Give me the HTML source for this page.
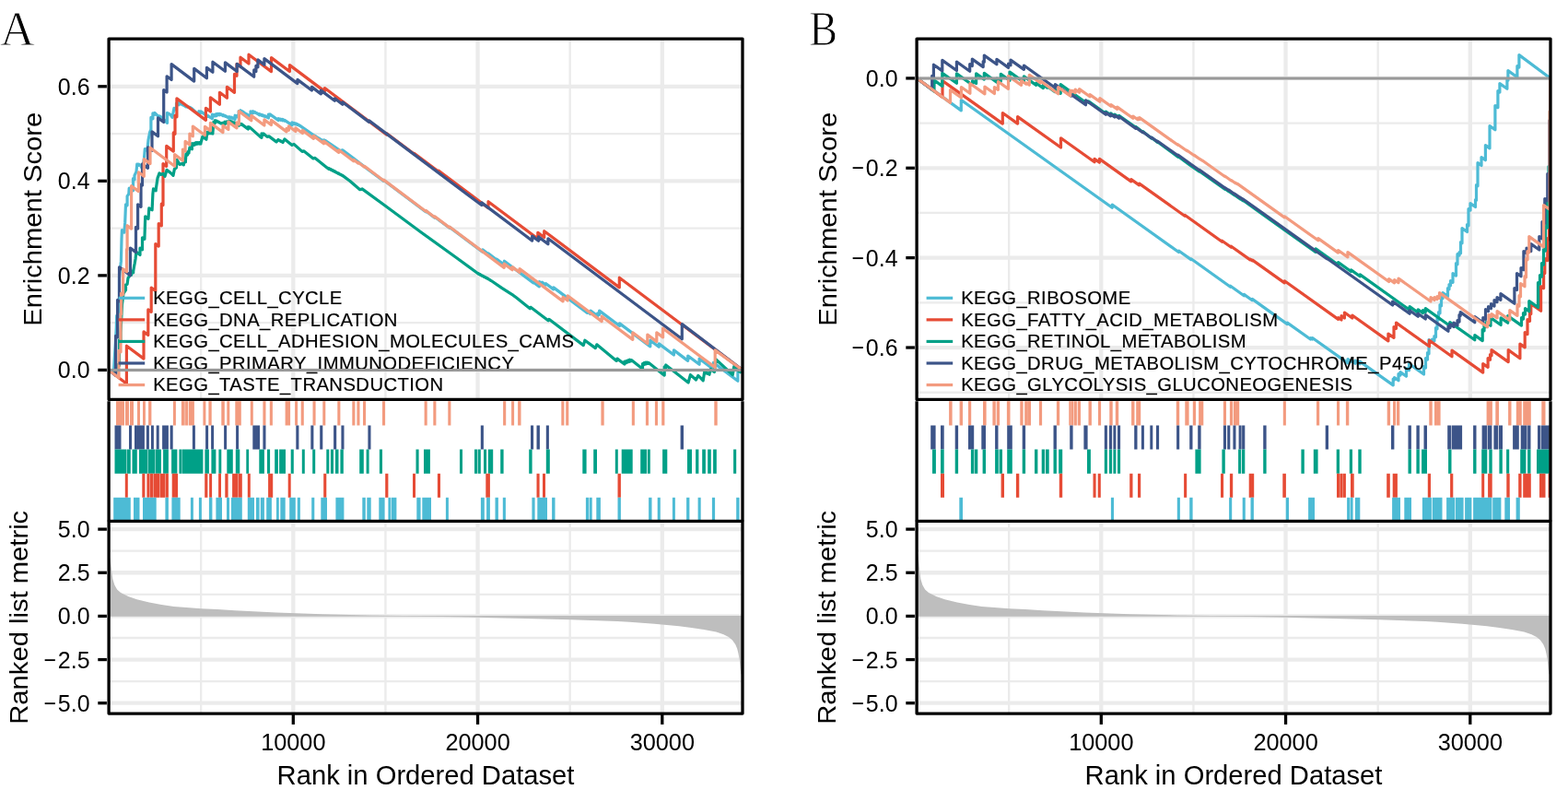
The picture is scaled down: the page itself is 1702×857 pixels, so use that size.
<!DOCTYPE html>
<html lang="en">
<head>
<meta charset="utf-8">
<title>GSEA enrichment plots</title>
<style>
html,body{margin:0;padding:0;background:#fff;}
body{width:1702px;height:857px;overflow:hidden;}
svg{display:block;font-family:"Liberation Sans",sans-serif;}
.tag{font-family:"Liberation Serif",serif;}
</style>
</head>
<body>
<svg width="1702" height="857" viewBox="0 0 1702 857">
<defs>
<clipPath id="clipTop"><rect x="118.1" y="42.1" width="687.90" height="391.30"/></clipPath>
<clipPath id="clipBar"><rect x="118.1" y="433.4" width="687.90" height="132.00"/></clipPath>
<clipPath id="clipBot"><rect x="118.1" y="565.4" width="687.90" height="208.70"/></clipPath>
</defs>
<rect width="1702" height="857" fill="#fff"/>
<text class="tag" transform="translate(0.3,49.3) scale(0.965,1)" font-size="53.5" fill="#000" stroke="#fff" stroke-width="0.9" paint-order="fill stroke">A</text>
<text class="tag" transform="translate(878.4,49.1) scale(0.855,1)" font-size="53.5" fill="#000" stroke="#fff" stroke-width="0.9" paint-order="fill stroke">B</text>
<g transform="translate(0,0)">
<g stroke="#EBEBEB" fill="none"><line x1="118.1" x2="806.0" y1="350.13" y2="350.13" stroke-width="2.3"/><line x1="118.1" x2="806.0" y1="247.59" y2="247.59" stroke-width="2.3"/><line x1="118.1" x2="806.0" y1="145.05" y2="145.05" stroke-width="2.3"/><line x1="218.18" x2="218.18" y1="42.1" y2="433.4" stroke-width="2.3"/><line x1="218.18" x2="218.18" y1="565.4" y2="774.1" stroke-width="2.3"/><line x1="418.43" x2="418.43" y1="42.1" y2="433.4" stroke-width="2.3"/><line x1="418.43" x2="418.43" y1="565.4" y2="774.1" stroke-width="2.3"/><line x1="618.67" x2="618.67" y1="42.1" y2="433.4" stroke-width="2.3"/><line x1="618.67" x2="618.67" y1="565.4" y2="774.1" stroke-width="2.3"/><line x1="118.1" x2="806.0" y1="401.40" y2="401.40" stroke-width="4.3"/><line x1="118.1" x2="806.0" y1="298.86" y2="298.86" stroke-width="4.3"/><line x1="118.1" x2="806.0" y1="196.32" y2="196.32" stroke-width="4.3"/><line x1="118.1" x2="806.0" y1="93.78" y2="93.78" stroke-width="4.3"/><line x1="318.30" x2="318.30" y1="42.1" y2="433.4" stroke-width="4.3"/><line x1="318.30" x2="318.30" y1="565.4" y2="774.1" stroke-width="4.3"/><line x1="518.55" x2="518.55" y1="42.1" y2="433.4" stroke-width="4.3"/><line x1="518.55" x2="518.55" y1="565.4" y2="774.1" stroke-width="4.3"/><line x1="718.80" x2="718.80" y1="42.1" y2="433.4" stroke-width="4.3"/><line x1="718.80" x2="718.80" y1="565.4" y2="774.1" stroke-width="4.3"/><line x1="118.1" x2="806.0" y1="597.67" y2="597.67" stroke-width="2.3"/><line x1="118.1" x2="806.0" y1="644.82" y2="644.82" stroke-width="2.3"/><line x1="118.1" x2="806.0" y1="691.98" y2="691.98" stroke-width="2.3"/><line x1="118.1" x2="806.0" y1="739.12" y2="739.12" stroke-width="2.3"/><line x1="118.1" x2="806.0" y1="574.10" y2="574.10" stroke-width="4.3"/><line x1="118.1" x2="806.0" y1="621.25" y2="621.25" stroke-width="4.3"/><line x1="118.1" x2="806.0" y1="668.40" y2="668.40" stroke-width="4.3"/><line x1="118.1" x2="806.0" y1="715.55" y2="715.55" stroke-width="4.3"/><line x1="118.1" x2="806.0" y1="762.70" y2="762.70" stroke-width="4.3"/></g>
<g clip-path="url(#clipTop)" fill="none" stroke-width="3.2" stroke-linejoin="round" stroke-linecap="butt">
<path d="M118.1 401.4 L119.9 403.1 L119.9 401.9 L121.7 403.3 L121.7 402.5 L123.5 403.8 L123.5 403.4 L124.3 389.4 L126.3 355.4 L126.7 342.4 L129.5 344.5 L129.5 300.4 L131.4 283.4 L132.0 259.4 L132.4 249.6 L134.9 252.1 L135.7 241.4 L136.5 221.8 L138.1 222.7 L138.1 212.9 L139.8 210.4 L140.2 204.1 L143.0 206.2 L143.0 205.7 L144.5 206.8 L144.5 193.7 L146.0 194.8 L146.0 190.4 L148.0 186.1 L148.8 178.0 L150.4 179.2 L150.4 178.0 L152.0 179.2 L152.0 178.8 L154.5 182.9 L156.5 171.4 L157.3 161.6 L160.2 163.8 L160.2 160.0 L161.0 151.8 L162.6 143.7 L163.9 140.4 L163.9 127.4 L165.9 128.9 L165.9 122.9 L167.9 124.4 L167.9 122.4 L171.0 125.4 L173.0 126.9 L173.0 125.8 L175.0 127.3 L175.0 126.9 L181.5 133.4 L181.5 122.4 L183.2 123.7 L183.2 123.2 L185.0 124.6 L185.0 124.4 L187.0 127.4 L189.0 117.4 L191.5 119.3 L191.5 112.0 L194.0 113.8 L194.0 111.4 L196.0 112.9 L196.0 112.2 L198.0 113.7 L198.0 113.2 L200.0 114.7 L200.0 114.4 L202.0 115.9 L202.0 114.8 L203.9 116.3 L203.9 115.5 L205.9 117.0 L205.9 116.3 L207.9 117.8 L207.9 117.4 L213.9 122.9 L215.9 124.4 L215.9 120.7 L217.9 122.2 L217.9 120.9 L222.9 124.4 L225.4 126.3 L225.4 125.3 L227.9 127.2 L227.9 126.9 L230.4 128.8 L230.4 124.1 L232.9 126.0 L232.9 124.4 L234.7 125.7 L234.7 123.6 L236.4 124.9 L236.4 123.4 L238.2 124.7 L238.2 123.3 L239.9 124.6 L239.9 123.9 L242.2 125.6 L242.2 124.5 L244.5 126.3 L244.5 125.5 L246.8 127.3 L246.8 126.9 L248.8 128.4 L248.8 126.7 L250.8 128.2 L250.8 127.0 L252.8 128.5 L252.8 127.9 L255.1 129.6 L255.1 125.2 L257.4 126.9 L257.4 125.4 L259.2 126.8 L259.2 120.5 L261.0 121.8 L261.0 119.7 L263.1 121.3 L263.1 120.9 L265.2 122.4 L265.2 122.2 L267.4 123.7 L267.4 123.5 L269.5 125.0 L269.5 124.9 L272.0 126.8 L272.0 120.8 L274.5 122.7 L274.5 120.7 L276.3 122.1 L276.3 121.4 L278.1 122.7 L278.1 122.3 L279.9 123.6 L279.9 123.4 L281.9 124.9 L281.9 123.7 L283.9 125.2 L283.9 124.4 L285.9 125.9 L285.9 125.1 L287.9 126.6 L287.9 125.8 L289.9 127.3 L289.9 126.9 L291.4 128.0 L291.4 124.1 L292.9 125.2 L292.9 123.9 L299.9 128.9 L302.1 130.6 L302.1 128.6 L304.4 130.3 L304.4 129.0 L306.6 130.7 L306.6 129.4 L308.9 131.1 L308.9 130.4 L314.9 134.4 L316.9 135.9 L316.9 132.9 L318.9 134.4 L318.9 133.4 L320.9 134.9 L320.9 133.9 L322.9 135.4 L322.9 134.7 L324.9 136.2 L324.9 135.9 L329.9 139.4 L339.9 146.4 L341.9 147.9 L341.9 147.4 L343.9 148.9 L343.9 148.7 L345.9 150.2 L345.9 149.8 L347.9 151.3 L347.9 151.1 L349.9 152.6 L349.9 152.4 L351.4 153.5 L351.4 151.8 L352.9 153.0 L352.9 152.4 L369.8 163.8 L371.8 162.8 L383.8 171.8 L400.0 184.3 L416.5 196.4 L416.5 195.5 L462.1 229.7 L462.1 228.8 L471.8 236.1 L471.8 235.2 L487.9 247.3 L487.9 246.4 L522.0 271.9 L523.8 273.3 L523.8 270.9 L529.9 275.5 L529.9 274.9 L539.0 281.7 L539.0 281.1 L547.4 287.4 L547.4 283.2 L579.0 306.9 L579.0 306.1 L585.4 310.9 L585.4 305.5 L588.5 307.8 L588.5 306.2 L592.3 309.1 L592.3 307.5 L600.8 313.9 L600.8 311.9 L637.5 339.4 L637.5 338.0 L641.0 340.6 L641.0 337.1 L648.7 342.9 L648.7 339.9 L650.6 341.3 L650.6 337.1 L672.5 353.5 L672.5 350.9 L705.8 375.9 L705.8 369.2 L715.2 376.3 L715.2 372.9 L731.4 385.0 L731.4 379.9 L746.7 391.4 L746.7 386.0 L759.1 395.3 L759.1 389.1 L774.4 400.6 L774.4 393.4 L800.9 413.3 L800.9 398.0 L806.0 401.4" stroke="#4DBBD5"/>
<path d="M118.1 401.4 L137.4 416.3 L137.4 375.2 L156.0 389.1 L156.0 359.9 L160.8 363.5 L160.8 335.9 L164.2 338.4 L164.2 312.1 L168.8 315.5 L168.8 264.6 L172.2 267.1 L172.2 242.6 L175.3 244.9 L175.3 221.2 L177.0 222.5 L177.0 177.6 L180.7 180.4 L180.7 158.4 L188.3 164.1 L188.3 143.9 L190.0 145.2 L190.0 125.4 L191.9 126.8 L191.9 106.8 L223.4 130.4 L223.4 117.3 L228.4 121.1 L228.4 105.8 L238.4 113.3 L238.4 100.3 L246.4 106.3 L246.4 94.3 L254.5 100.4 L254.5 80.4 L257.0 82.3 L257.0 69.4 L261.0 72.4 L261.0 62.2 L270.0 69.0 L270.0 59.2 L294.5 77.6 L294.5 62.6 L314.4 77.5 L314.4 70.6 L352.4 99.1 L352.4 95.5 L419.8 146.1 L419.8 144.7 L449.5 167.0 L449.5 166.3 L476.2 186.3 L476.2 185.2 L530.0 225.6 L530.0 218.7 L583.8 259.0 L583.8 252.3 L590.7 257.5 L590.7 250.7 L672.3 311.9 L672.3 301.2 L806.0 401.4" stroke="#E64B35"/>
<path d="M118.1 401.4 L120.1 403.3 L120.1 401.9 L122.0 403.3 L122.0 402.4 L124.0 403.9 L124.0 403.4 L126.0 404.9 L126.0 396.6 L128.0 398.1 L128.0 395.4 L129.5 396.5 L129.5 368.6 L131.0 369.7 L131.0 360.4 L132.5 330.4 L134.0 318.4 L136.5 314.7 L136.5 309.0 L138.1 308.2 L139.0 301.6 L140.2 300.0 L140.6 296.7 L142.6 298.2 L142.6 294.1 L144.7 295.7 L144.7 294.3 L145.5 289.4 L146.3 285.3 L147.1 280.4 L147.9 273.3 L152.0 276.6 L152.0 269.2 L154.5 270.8 L154.5 257.8 L156.9 259.4 L157.7 234.9 L161.0 237.4 L161.8 225.9 L163.4 227.1 L163.4 226.6 L165.1 227.8 L165.1 227.6 L165.9 210.4 L166.5 204.9 L169.2 206.9 L169.2 205.7 L171.0 193.4 L173.0 187.9 L175.0 189.4 L177.0 188.4 L179.0 191.4 L181.0 184.4 L185.0 187.4 L188.0 190.4 L189.4 183.4 L191.4 181.9 L192.0 173.4 L195.0 178.4 L197.4 177.4 L199.4 178.9 L199.4 174.4 L201.4 175.9 L201.4 174.4 L202.0 166.9 L203.5 168.0 L203.5 164.8 L205.0 166.0 L205.0 164.9 L206.0 159.9 L208.4 161.7 L208.4 155.5 L210.9 157.4 L210.9 155.3 L212.7 156.6 L212.7 154.6 L214.4 156.0 L214.4 154.6 L216.2 156.0 L216.2 154.6 L217.9 156.0 L217.9 155.3 L219.9 148.3 L223.9 151.3 L224.9 143.4 L226.9 144.9 L226.9 143.2 L228.9 144.7 L228.9 143.5 L230.9 145.0 L230.9 144.4 L231.9 132.4 L233.4 133.5 L233.4 130.7 L234.9 131.8 L234.9 130.9 L237.4 132.8 L237.4 132.2 L239.9 134.1 L239.9 133.9 L241.9 133.4 L243.9 134.9 L243.9 132.2 L245.9 133.7 L245.9 131.9 L247.8 133.4 L247.8 131.6 L249.8 133.1 L249.8 131.3 L251.8 132.8 L251.8 131.9 L254.3 133.8 L254.3 132.8 L256.8 134.7 L256.8 134.4 L259.3 136.3 L259.3 133.5 L261.8 135.3 L261.8 134.4 L267.8 138.9 L269.3 140.0 L269.3 137.6 L270.8 138.7 L270.8 137.9 L282.0 147.9 L284.0 149.4 L284.0 144.9 L286.0 146.4 L286.0 144.9 L290.0 148.4 L292.0 147.9 L300.0 153.9 L302.0 151.4 L304.5 153.3 L304.5 152.7 L307.0 154.6 L307.0 154.4 L309.0 150.9 L317.0 157.4 L319.0 156.4 L328.0 164.4 L330.0 163.9 L340.0 171.9 L342.0 171.4 L355.0 181.9 L357.0 183.4 L357.0 182.6 L359.0 184.1 L359.0 183.6 L361.0 185.1 L361.0 184.6 L363.0 186.1 L363.0 185.6 L365.0 187.1 L365.0 186.8 L367.3 188.5 L367.3 187.8 L369.5 189.5 L369.5 189.0 L371.8 190.7 L371.8 190.4 L380.0 196.5 L390.7 205.7 L393.0 204.9 L418.2 223.2 L456.4 251.5 L494.6 279.0 L517.5 295.8 L519.4 297.2 L519.4 296.7 L521.3 298.1 L521.3 297.7 L523.2 299.1 L523.2 298.8 L525.1 300.2 L525.1 299.8 L527.1 301.2 L527.1 300.9 L529.0 302.3 L529.0 301.9 L530.9 303.3 L530.9 303.0 L532.8 304.4 L532.8 304.2 L545.0 312.6 L557.2 320.4 L560.0 322.6 L575.3 334.8 L576.0 333.3 L595.1 347.8 L595.9 346.3 L633.3 374.6 L634.9 369.2 L646.3 377.6 L647.8 373.8 L669.2 391.4 L670.0 389.1 L676.1 393.7 L677.9 395.1 L677.9 392.1 L679.8 393.5 L679.8 391.5 L681.6 392.8 L681.6 390.8 L683.5 392.2 L683.5 390.2 L685.3 391.6 L685.3 390.6 L696.0 399.0 L697.5 400.1 L697.5 394.5 L699.0 395.6 L699.0 393.7 L700.8 395.0 L700.8 393.0 L702.6 394.4 L702.6 393.0 L704.4 394.4 L704.4 393.7 L719.6 405.9 L721.2 407.1 L721.2 397.8 L722.7 399.0 L722.7 395.9 L747.1 415.0 L749.4 406.6 L755.5 412.0 L757.8 407.4 L763.2 412.8 L764.7 403.6 L766.5 404.9 L766.5 404.1 L768.2 405.4 L768.2 404.9 L770.0 406.2 L770.0 405.9 L771.6 400.5 L775.4 403.6 L776.9 389.8 L795.3 406.6 L796.8 397.5 L801.4 402.1 L803.7 403.8 L803.7 401.0 L806.0 402.7 L806.0 401.4" stroke="#00A087"/>
<path d="M118.1 401.4 L125.6 407.4 L125.6 364.4 L127.6 365.9 L127.6 325.4 L129.5 326.8 L129.5 289.8 L141.4 298.7 L141.4 269.0 L147.5 273.6 L147.5 246.4 L149.6 248.0 L149.6 221.8 L153.0 224.4 L153.0 199.9 L154.5 201.0 L154.5 177.9 L160.5 182.4 L160.5 159.9 L165.0 163.3 L165.0 142.9 L171.5 147.8 L171.5 127.9 L177.7 132.5 L177.7 97.5 L181.1 100.1 L181.1 82.8 L186.1 86.6 L186.1 69.6 L210.7 88.1 L210.7 74.4 L224.4 84.7 L224.4 73.4 L230.9 78.3 L230.9 67.2 L244.4 77.3 L244.4 67.9 L257.2 77.5 L257.2 69.4 L275.7 83.3 L275.7 75.9 L277.9 77.5 L277.9 71.4 L279.9 72.9 L279.9 64.9 L286.9 70.2 L286.9 63.6 L322.9 90.6 L322.9 86.4 L338.4 98.0 L338.4 94.4 L348.4 101.9 L348.4 98.1 L363.3 109.3 L363.3 106.8 L371.8 113.2 L371.8 110.8 L400.6 132.4 L400.6 130.9 L522.8 222.5 L522.8 219.9 L577.7 261.1 L577.7 256.1 L584.5 261.2 L584.5 256.9 L594.9 264.7 L594.9 258.8 L740.3 367.8 L740.3 351.6 L806.0 401.4" stroke="#3C5488"/>
<path d="M118.1 401.4 L129.0 410.0 L129.0 380.4 L131.0 381.9 L131.0 340.4 L131.6 340.8 L131.6 318.0 L133.6 319.5 L133.6 291.8 L137.5 294.7 L137.5 270.4 L138.1 270.8 L138.1 244.7 L142.6 248.1 L142.6 201.7 L150.4 207.6 L150.4 186.8 L156.3 191.2 L156.3 172.6 L163.0 177.6 L163.0 160.2 L189.6 180.2 L189.6 167.6 L198.4 174.2 L198.4 162.1 L201.1 164.1 L201.1 153.4 L205.9 157.0 L205.9 145.1 L209.3 147.7 L209.3 137.0 L222.4 146.8 L222.4 137.4 L228.4 141.9 L228.4 133.4 L242.0 143.6 L242.0 136.1 L247.9 140.5 L247.9 132.1 L257.0 138.9 L257.0 132.9 L259.4 134.7 L259.4 120.6 L272.8 130.7 L272.8 125.4 L286.9 136.0 L286.9 129.9 L294.4 135.5 L294.4 130.4 L311.0 142.9 L311.0 139.4 L313.4 141.2 L313.4 136.9 L320.9 142.5 L320.9 138.9 L328.4 144.5 L328.4 141.4 L340.4 150.4 L340.4 147.4 L351.4 155.7 L351.4 153.1 L367.8 165.4 L367.8 162.8 L383.8 174.8 L383.8 173.3 L388.9 177.1 L388.9 176.2 L395.6 181.2 L395.6 180.3 L416.5 196.0 L416.5 195.1 L462.1 229.3 L462.1 228.4 L471.8 235.7 L471.8 234.8 L487.9 246.9 L487.9 246.0 L547.2 290.4 L547.2 286.1 L556.1 292.8 L556.1 289.6 L564.0 295.5 L564.0 291.6 L611.1 326.9 L611.1 322.3 L616.1 326.0 L616.1 320.8 L653.2 348.6 L653.2 343.2 L686.8 368.4 L686.8 360.8 L702.8 372.8 L702.8 363.1 L712.8 370.6 L712.8 360.8 L719.6 365.9 L719.6 356.2 L776.2 398.6 L776.2 379.9 L806.0 401.4" stroke="#F39B7F"/>
</g>
<g font-size="20.25" fill="#000" letter-spacing="0.42" stroke="#000" stroke-width="0.18">
<line x1="128.6" x2="157.20" y1="323.30" y2="323.30" stroke="#4DBBD5" stroke-width="3.2"/>
<text x="166.20" y="330.20">KEGG_CELL_CYCLE</text>
<line x1="128.6" x2="157.20" y1="346.87" y2="346.87" stroke="#E64B35" stroke-width="3.2"/>
<text x="166.20" y="353.77">KEGG_DNA_REPLICATION</text>
<line x1="128.6" x2="157.20" y1="370.44" y2="370.44" stroke="#00A087" stroke-width="3.2"/>
<text x="166.20" y="377.34">KEGG_CELL_ADHESION_MOLECULES_CAMS</text>
<line x1="128.6" x2="157.20" y1="394.01" y2="394.01" stroke="#3C5488" stroke-width="3.2"/>
<text x="166.20" y="400.91">KEGG_PRIMARY_IMMUNODEFICIENCY</text>
<line x1="128.6" x2="157.20" y1="417.58" y2="417.58" stroke="#F39B7F" stroke-width="3.2"/>
<text x="166.20" y="424.48">KEGG_TASTE_TRANSDUCTION</text>
</g>
<line x1="118.1" x2="806.0" y1="401.40" y2="401.40" stroke="#999999" stroke-width="3.0"/>
<g clip-path="url(#clipBar)">
<path d="M126.0 435.3H135.0V461.5H126.0ZM136.0 435.3H140.0V461.5H136.0ZM141.0 435.3H145.0V461.5H141.0ZM149.0 435.3H152.0V461.5H149.0ZM155.0 435.3H157.9V461.5H155.0ZM161.1 435.3H164.4V461.5H161.1ZM187.9 435.3H190.9V461.5H187.9ZM196.9 435.3H200.7V461.5H196.9ZM201.1 435.3H204.2V461.5H201.1ZM204.9 435.3H210.9V461.5H204.9ZM220.4 435.3H223.4V461.5H220.4ZM226.4 435.3H229.7V461.5H226.4ZM240.3 435.3H243.8V461.5H240.3ZM246.3 435.3H249.3V461.5H246.3ZM255.3 435.3H261.8V461.5H255.3ZM271.8 435.3H274.8V461.5H271.8ZM285.4 435.3H288.5V461.5H285.4ZM292.8 435.3H295.9V461.5H292.8ZM309.6 435.3H315.1V461.5H309.6ZM320.1 435.3H323.1V461.5H320.1ZM326.7 435.3H329.8V461.5H326.7ZM339.5 435.3H342.6V461.5H339.5ZM350.3 435.3H353.3V461.5H350.3ZM366.3 435.3H369.4V461.5H366.3ZM382.3 435.3H385.4V461.5H382.3ZM387.4 435.3H390.5V461.5H387.4ZM394.0 435.3H397.1V461.5H394.0ZM415.0 435.3H418.1V461.5H415.0ZM460.6 435.3H463.7V461.5H460.6ZM470.3 435.3H473.4V461.5H470.3ZM486.3 435.3H489.4V461.5H486.3ZM546.1 435.3H549.2V461.5H546.1ZM555.1 435.3H558.1V461.5H555.1ZM562.1 435.3H565.5V461.5H562.1ZM609.3 435.3H612.4V461.5H609.3ZM614.2 435.3H617.3V461.5H614.2ZM652.4 435.3H655.7V461.5H652.4ZM685.8 435.3H688.9V461.5H685.8ZM700.9 435.3H704.0V461.5H700.9ZM710.9 435.3H714.0V461.5H710.9ZM718.2 435.3H721.4V461.5H718.2ZM775.3 435.3H778.7V461.5H775.3Z" fill="#F39B7F"/>
<path d="M124.5 461.5H131.5V487.6H124.5ZM140.0 461.5H143.0V487.6H140.0ZM146.0 461.5H156.9V487.6H146.0ZM158.9 461.5H161.9V487.6H158.9ZM163.9 461.5H166.9V487.6H163.9ZM169.7 461.5H172.7V487.6H169.7ZM176.1 461.5H182.9V487.6H176.1ZM184.6 461.5H187.7V487.6H184.6ZM208.9 461.5H211.9V487.6H208.9ZM223.1 461.5H226.1V487.6H223.1ZM229.1 461.5H232.1V487.6H229.1ZM243.1 461.5H246.1V487.6H243.1ZM256.1 461.5H259.1V487.6H256.1ZM274.3 461.5H282.0V487.6H274.3ZM285.4 461.5H288.5V487.6H285.4ZM321.3 461.5H324.4V487.6H321.3ZM337.3 461.5H340.4V487.6H337.3ZM347.2 461.5H350.3V487.6H347.2ZM362.1 461.5H365.2V487.6H362.1ZM370.4 461.5H373.5V487.6H370.4ZM399.4 461.5H402.5V487.6H399.4ZM521.8 461.5H524.9V487.6H521.8ZM576.0 461.5H579.1V487.6H576.0ZM582.5 461.5H585.9V487.6H582.5ZM592.8 461.5H595.9V487.6H592.8ZM738.6 461.5H742.0V487.6H738.6Z" fill="#3C5488"/>
<path d="M124.5 487.6H137.0V513.7H124.5ZM137.5 487.6H141.8V513.7H137.5ZM143.5 487.6H148.8V513.7H143.5ZM151.0 487.6H160.4V513.7H151.0ZM160.9 487.6H168.4V513.7H160.9ZM168.9 487.6H174.9V513.7H168.9ZM177.1 487.6H182.9V513.7H177.1ZM186.1 487.6H192.4V513.7H186.1ZM194.4 487.6H197.1V513.7H194.4ZM197.5 487.6H220.4V513.7H197.5ZM222.4 487.6H226.9V513.7H222.4ZM229.4 487.6H234.4V513.7H229.4ZM237.4 487.6H240.3V513.7H237.4ZM246.3 487.6H252.8V513.7H246.3ZM255.8 487.6H260.3V513.7H255.8ZM267.3 487.6H270.1V513.7H267.3ZM281.3 487.6H284.8V513.7H281.3ZM284.8 487.6H286.9V513.7H284.8ZM290.0 487.6H293.1V513.7H290.0ZM298.2 487.6H301.9V513.7H298.2ZM303.1 487.6H310.0V513.7H303.1ZM315.7 487.6H318.8V513.7H315.7ZM327.8 487.6H330.8V513.7H327.8ZM339.2 487.6H342.2V513.7H339.2ZM354.3 487.6H357.3V513.7H354.3ZM358.9 487.6H362.0V513.7H358.9ZM364.0 487.6H367.5V513.7H364.0ZM369.4 487.6H372.8V513.7H369.4ZM390.2 487.6H394.8V513.7H390.2ZM397.6 487.6H400.6V513.7H397.6ZM411.9 487.6H415.0V513.7H411.9ZM451.5 487.6H454.6V513.7H451.5ZM460.0 487.6H466.9V513.7H460.0ZM499.0 487.6H502.0V513.7H499.0ZM515.0 487.6H518.1V513.7H515.0ZM518.7 487.6H521.8V513.7H518.7ZM525.0 487.6H528.1V513.7H525.0ZM529.8 487.6H535.2V513.7H529.8ZM543.2 487.6H546.6V513.7H543.2ZM574.2 487.6H577.6V513.7H574.2ZM592.8 487.6H596.8V513.7H592.8ZM632.3 487.6H636.6V513.7H632.3ZM644.2 487.6H648.0V513.7H644.2ZM667.8 487.6H670.8V513.7H667.8ZM674.7 487.6H686.7V513.7H674.7ZM695.2 487.6H702.1V513.7H695.2ZM702.9 487.6H705.8V513.7H702.9ZM719.1 487.6H724.3V513.7H719.1ZM746.0 487.6H751.0V513.7H746.0ZM755.1 487.6H758.4V513.7H755.1ZM762.2 487.6H765.9V513.7H762.2ZM768.2 487.6H771.8V513.7H768.2ZM774.1 487.6H777.8V513.7H774.1ZM796.1 487.6H799.2V513.7H796.1Z" fill="#00A087"/>
<path d="M135.8 513.7H138.8V539.8H135.8ZM154.3 513.7H157.4V539.8H154.3ZM159.4 513.7H162.2V539.8H159.4ZM162.6 513.7H166.2V539.8H162.6ZM166.6 513.7H173.2V539.8H166.6ZM173.6 513.7H179.2V539.8H173.6ZM179.6 513.7H182.9V539.8H179.6ZM186.7 513.7H193.1V539.8H186.7ZM222.2 513.7H225.4V539.8H222.2ZM227.1 513.7H230.1V539.8H227.1ZM237.1 513.7H240.0V539.8H237.1ZM244.3 513.7H247.6V539.8H244.3ZM252.1 513.7H258.6V539.8H252.1ZM259.0 513.7H262.8V539.8H259.0ZM268.8 513.7H271.8V539.8H268.8ZM291.1 513.7H296.2V539.8H291.1ZM312.7 513.7H315.7V539.8H312.7ZM351.2 513.7H354.3V539.8H351.2ZM418.2 513.7H421.4V539.8H418.2ZM448.0 513.7H451.0V539.8H448.0ZM474.9 513.7H478.0V539.8H474.9ZM527.3 513.7H531.9V539.8H527.3ZM582.5 513.7H585.6V539.8H582.5ZM589.0 513.7H592.0V539.8H589.0ZM670.5 513.7H673.9V539.8H670.5Z" fill="#E64B35"/>
<path d="M123.2 539.8H141.8V565.0H123.2ZM145.0 539.8H151.5V565.0H145.0ZM155.0 539.8H169.7V565.0H155.0ZM179.4 539.8H182.9V565.0H179.4ZM186.4 539.8H195.7V565.0H186.4ZM206.9 539.8H209.9V565.0H206.9ZM215.9 539.8H218.9V565.0H215.9ZM226.9 539.8H230.4V565.0H226.9ZM234.4 539.8H241.0V565.0H234.4ZM246.0 539.8H249.0V565.0H246.0ZM251.0 539.8H262.8V565.0H251.0ZM268.8 539.8H276.0V565.0H268.8ZM278.0 539.8H281.6V565.0H278.0ZM282.8 539.8H284.8V565.0H282.8ZM284.8 539.8H286.9V565.0H284.8ZM289.2 539.8H294.9V565.0H289.2ZM300.0 539.8H302.8V565.0H300.0ZM304.3 539.8H309.7V565.0H304.3ZM314.2 539.8H320.8V565.0H314.2ZM322.8 539.8H325.9V565.0H322.8ZM338.2 539.8H341.3V565.0H338.2ZM348.3 539.8H355.0V565.0H348.3ZM364.4 539.8H373.4V565.0H364.4ZM393.3 539.8H396.8V565.0H393.3ZM398.3 539.8H402.7V565.0H398.3ZM411.3 539.8H417.6V565.0H411.3ZM421.4 539.8H424.2V565.0H421.4ZM424.8 539.8H430.4V565.0H424.8ZM452.3 539.8H456.6V565.0H452.3ZM458.3 539.8H468.0V565.0H458.3ZM483.9 539.8H486.9V565.0H483.9ZM521.9 539.8H525.8V565.0H521.9ZM528.1 539.8H531.9V565.0H528.1ZM537.5 539.8H540.9V565.0H537.5ZM545.8 539.8H548.9V565.0H545.8ZM577.4 539.8H580.6V565.0H577.4ZM583.3 539.8H594.0V565.0H583.3ZM599.1 539.8H602.5V565.0H599.1ZM635.9 539.8H639.0V565.0H635.9ZM639.6 539.8H642.7V565.0H639.6ZM647.3 539.8H651.9V565.0H647.3ZM670.5 539.8H673.9V565.0H670.5ZM704.1 539.8H707.5V565.0H704.1ZM713.7 539.8H716.8V565.0H713.7ZM729.9 539.8H732.9V565.0H729.9ZM745.1 539.8H748.4V565.0H745.1ZM757.6 539.8H760.7V565.0H757.6ZM772.9 539.8H776.1V565.0H772.9ZM799.2 539.8H802.6V565.0H799.2Z" fill="#4DBBD5"/>
</g>
<path d="M118.1 668.70L118.1 600.0L119.8 607.5L120.6 614.0L121.3 621.0L122.4 628.3L124.4 634.8L127.1 639.5L131.1 642.9L139.2 647.1L148.6 650.2L162.0 653.6L175.4 656.0L188.8 657.9L202.2 659.0L218.4 660.3L235.8 661.1L255.0 662.3L300.0 664.5L350.0 666.2L400.0 667.5L438 668.10L438 668.70ZM438 668.10L806.0 668.10L806.0 733.0L804.3 731.0L803.6 725.2L802.9 717.1L801.5 709.1L800.2 703.7L798.2 699.0L794.8 694.3L790.8 690.9L785.4 688.3L777.4 685.6L764.0 682.9L750.5 680.9L737.1 679.3L723.7 677.9L710.3 676.8L696.8 675.8L683.4 674.8L670.0 673.9L620.0 672.3L570.0 670.9L520.0 669.8L480.0 669.0L438 668.70Z" fill="#BEBEBE" clip-path="url(#clipBot)"/>
<g fill="none" stroke="#000" stroke-width="3.3" stroke-linejoin="round">
<rect x="118.1" y="42.1" width="687.90" height="391.30"/>
<path d="M118.1 435.20V565.4M806.0 435.20V565.4"/>
<rect x="118.1" y="565.4" width="687.90" height="208.70"/>
</g>
<g stroke="#000" stroke-width="3.3" fill="none"><line x1="106.30" x2="115.90" y1="401.40" y2="401.40"/><line x1="106.30" x2="115.90" y1="298.86" y2="298.86"/><line x1="106.30" x2="115.90" y1="196.32" y2="196.32"/><line x1="106.30" x2="115.90" y1="93.78" y2="93.78"/><line x1="106.30" x2="115.90" y1="574.10" y2="574.10"/><line x1="106.30" x2="115.90" y1="621.25" y2="621.25"/><line x1="106.30" x2="115.90" y1="668.40" y2="668.40"/><line x1="106.30" x2="115.90" y1="715.55" y2="715.55"/><line x1="106.30" x2="115.90" y1="762.70" y2="762.70"/><line x1="318.30" x2="318.30" y1="774.1" y2="785.90"/><line x1="518.55" x2="518.55" y1="774.1" y2="785.90"/><line x1="718.80" x2="718.80" y1="774.1" y2="785.90"/></g>
<g font-size="26.2" fill="#000">
<text text-anchor="end" transform="translate(97.50,410.40) scale(0.952,1)">0.0</text>
<text text-anchor="end" transform="translate(97.50,307.86) scale(0.952,1)">0.2</text>
<text text-anchor="end" transform="translate(97.50,205.32) scale(0.952,1)">0.4</text>
<text text-anchor="end" transform="translate(97.50,102.78) scale(0.952,1)">0.6</text>
<text text-anchor="end" transform="translate(97.50,583.10) scale(0.952,1)">5.0</text>
<text text-anchor="end" transform="translate(97.50,630.25) scale(0.952,1)">2.5</text>
<text text-anchor="end" transform="translate(97.50,677.40) scale(0.952,1)">0.0</text>
<text text-anchor="end" transform="translate(97.50,724.55) scale(0.952,1)"><tspan textLength="14.14" lengthAdjust="spacingAndGlyphs">−</tspan><tspan dx="1.85">2.5</tspan></text>
<text text-anchor="end" transform="translate(97.50,771.70) scale(0.952,1)"><tspan textLength="14.14" lengthAdjust="spacingAndGlyphs">−</tspan><tspan dx="1.85">5.0</tspan></text>
<text text-anchor="middle" transform="translate(318.30,814.1) scale(0.965,1)">10000</text>
<text text-anchor="middle" transform="translate(518.55,814.1) scale(0.965,1)">20000</text>
<text text-anchor="middle" transform="translate(718.80,814.1) scale(0.965,1)">30000</text>
</g>
<g font-size="29.2" fill="#000" text-anchor="middle">
<text x="462.05" y="850.6">Rank in Ordered Dataset</text>
<text font-size="28.32" transform="translate(44.5,237.75) rotate(-90) scale(1.031,1)">Enrichment Score</text>
<text font-size="28.32" transform="translate(30.35,669.75) rotate(-90) scale(1.031,1)">Ranked list metric</text>
</g>
</g>
<g transform="translate(877.0,0)">
<g stroke="#EBEBEB" fill="none"><line x1="118.1" x2="806.0" y1="133.59" y2="133.59" stroke-width="2.3"/><line x1="118.1" x2="806.0" y1="230.97" y2="230.97" stroke-width="2.3"/><line x1="118.1" x2="806.0" y1="328.35" y2="328.35" stroke-width="2.3"/><line x1="118.1" x2="806.0" y1="425.73" y2="425.73" stroke-width="2.3"/><line x1="218.18" x2="218.18" y1="42.1" y2="433.4" stroke-width="2.3"/><line x1="218.18" x2="218.18" y1="565.4" y2="774.1" stroke-width="2.3"/><line x1="418.43" x2="418.43" y1="42.1" y2="433.4" stroke-width="2.3"/><line x1="418.43" x2="418.43" y1="565.4" y2="774.1" stroke-width="2.3"/><line x1="618.67" x2="618.67" y1="42.1" y2="433.4" stroke-width="2.3"/><line x1="618.67" x2="618.67" y1="565.4" y2="774.1" stroke-width="2.3"/><line x1="118.1" x2="806.0" y1="84.90" y2="84.90" stroke-width="4.3"/><line x1="118.1" x2="806.0" y1="182.28" y2="182.28" stroke-width="4.3"/><line x1="118.1" x2="806.0" y1="279.66" y2="279.66" stroke-width="4.3"/><line x1="118.1" x2="806.0" y1="377.04" y2="377.04" stroke-width="4.3"/><line x1="318.30" x2="318.30" y1="42.1" y2="433.4" stroke-width="4.3"/><line x1="318.30" x2="318.30" y1="565.4" y2="774.1" stroke-width="4.3"/><line x1="518.55" x2="518.55" y1="42.1" y2="433.4" stroke-width="4.3"/><line x1="518.55" x2="518.55" y1="565.4" y2="774.1" stroke-width="4.3"/><line x1="718.80" x2="718.80" y1="42.1" y2="433.4" stroke-width="4.3"/><line x1="718.80" x2="718.80" y1="565.4" y2="774.1" stroke-width="4.3"/><line x1="118.1" x2="806.0" y1="597.67" y2="597.67" stroke-width="2.3"/><line x1="118.1" x2="806.0" y1="644.82" y2="644.82" stroke-width="2.3"/><line x1="118.1" x2="806.0" y1="691.98" y2="691.98" stroke-width="2.3"/><line x1="118.1" x2="806.0" y1="739.12" y2="739.12" stroke-width="2.3"/><line x1="118.1" x2="806.0" y1="574.10" y2="574.10" stroke-width="4.3"/><line x1="118.1" x2="806.0" y1="621.25" y2="621.25" stroke-width="4.3"/><line x1="118.1" x2="806.0" y1="668.40" y2="668.40" stroke-width="4.3"/><line x1="118.1" x2="806.0" y1="715.55" y2="715.55" stroke-width="4.3"/><line x1="118.1" x2="806.0" y1="762.70" y2="762.70" stroke-width="4.3"/></g>
<g clip-path="url(#clipTop)" fill="none" stroke-width="3.2" stroke-linejoin="round" stroke-linecap="butt">
<path d="M118.1 84.9 L166.3 119.9 L166.3 108.5 L330.2 225.3 L330.2 222.0 L402.4 273.5 L402.4 272.0 L415.9 281.6 L415.9 280.8 L458.6 311.2 L458.6 310.2 L473.3 320.7 L473.3 319.4 L482.2 325.7 L482.2 324.4 L520.3 351.6 L520.3 350.1 L545.5 368.0 L545.5 366.5 L547.5 368.0 L547.5 366.5 L586.0 393.9 L586.0 389.6 L589.5 392.1 L589.5 391.1 L594.0 394.3 L594.0 391.1 L599.0 394.7 L599.0 392.1 L635.2 417.9 L635.2 411.1 L636.5 412.0 L636.5 409.6 L641.0 412.8 L641.0 405.6 L643.0 407.0 L643.0 403.6 L649.5 408.2 L649.5 399.6 L652.5 401.7 L652.5 394.6 L668.5 406.0 L668.5 397.6 L670.5 399.0 L670.5 388.6 L672.5 390.0 L672.5 382.6 L674.0 383.7 L674.0 368.6 L677.5 371.1 L677.5 368.1 L679.9 369.8 L679.9 364.6 L681.5 365.7 L681.5 355.6 L683.0 356.7 L683.0 345.6 L684.5 346.7 L684.5 338.6 L686.0 339.7 L686.0 330.6 L687.5 331.7 L687.5 322.6 L689.0 323.7 L689.0 317.6 L694.5 321.5 L694.5 312.6 L696.0 313.7 L696.0 308.6 L697.5 309.7 L697.5 304.6 L700.0 306.4 L700.0 296.6 L703.5 299.1 L703.5 285.6 L705.0 286.7 L705.0 275.6 L707.0 277.0 L707.0 273.6 L708.5 274.7 L708.5 262.6 L710.0 263.7 L710.0 247.6 L715.5 251.5 L715.5 243.6 L717.0 244.7 L717.0 226.6 L719.0 228.0 L719.0 220.6 L724.5 224.5 L724.5 216.6 L725.5 217.3 L725.5 200.6 L727.0 201.7 L727.0 176.6 L731.0 179.5 L731.0 170.6 L735.4 173.7 L735.4 157.6 L740.0 160.9 L740.0 136.6 L745.9 140.8 L745.9 114.6 L748.9 116.7 L748.9 98.6 L750.9 100.0 L750.9 90.6 L758.9 96.3 L758.9 86.6 L759.9 87.3 L759.9 76.6 L769.9 83.7 L769.9 71.6 L771.9 73.0 L771.9 59.6 L806.0 84.9" stroke="#4DBBD5"/>
<path d="M118.1 84.9 L146.0 105.4 L146.0 87.6 L211.3 134.1 L211.3 122.5 L227.6 134.1 L227.6 126.6 L274.5 160.0 L274.5 149.8 L311.0 175.8 L311.0 172.4 L316.4 176.2 L316.4 172.4 L350.8 196.9 L350.8 194.6 L359.6 200.9 L359.6 199.1 L409.0 234.3 L409.0 233.3 L449.5 262.2 L449.5 261.2 L459.4 268.2 L459.4 267.2 L480.0 281.9 L480.0 281.1 L482.5 282.9 L482.5 282.1 L517.3 306.9 L517.3 304.8 L575.6 346.4 L575.6 344.6 L579.0 347.0 L579.0 342.6 L582.4 345.0 L582.4 339.0 L590.8 345.0 L590.8 342.0 L629.9 369.9 L629.9 362.1 L636.0 366.4 L636.0 354.6 L638.5 356.4 L638.5 350.1 L674.5 375.8 L674.5 369.2 L699.0 386.7 L699.0 380.1 L732.7 404.1 L732.7 394.6 L738.1 398.4 L738.1 388.6 L740.5 390.3 L740.5 384.6 L742.0 385.7 L742.0 379.6 L760.2 392.6 L760.2 379.6 L772.9 388.7 L772.9 373.1 L778.2 376.9 L778.2 360.6 L781.0 362.6 L781.0 346.6 L783.5 348.4 L783.5 339.6 L784.8 340.5 L784.8 329.6 L795.6 337.3 L795.6 310.6 L798.6 312.7 L798.6 295.6 L799.8 296.5 L799.8 280.6 L802.8 282.7 L802.8 258.6 L804.5 259.8 L804.5 200.6 L805.5 201.3 L805.5 120.6 L805.9 120.9 L805.9 86.6 L806.0 84.9" stroke="#E64B35"/>
<path d="M118.1 84.9 L137.0 99.0 L137.0 87.1 L145.8 93.4 L145.8 79.2 L161.4 90.3 L161.4 79.9 L178.6 92.2 L178.6 87.6 L182.6 90.5 L182.6 79.9 L191.3 86.1 L191.3 79.4 L205.0 89.2 L205.0 85.1 L209.3 88.2 L209.3 80.3 L219.0 87.2 L219.0 78.1 L234.4 89.1 L234.4 82.9 L247.7 92.4 L247.7 90.1 L255.4 95.6 L255.4 92.1 L259.8 95.2 L259.8 93.6 L268.2 99.6 L268.2 97.1 L274.2 101.4 L274.2 91.6 L301.7 111.2 L301.7 109.2 L304.5 111.2 L304.5 109.9 L323.3 123.3 L323.3 121.1 L328.6 124.9 L328.6 122.9 L332.9 126.0 L332.9 124.0 L337.5 127.3 L337.5 125.3 L355.9 138.4 L355.9 137.4 L363.4 143.3 L363.4 142.6 L372.8 150.0 L372.8 149.3 L379.6 154.6 L379.6 153.9 L401.6 170.2 L401.6 169.5 L415.8 179.9 L415.8 179.9 L424.9 186.1 L424.9 185.6 L452.5 205.2 L452.5 204.8 L456.8 207.8 L456.8 207.4 L462.9 211.8 L462.9 211.4 L469.3 216.0 L469.3 215.6 L472.6 217.9 L472.6 217.5 L495.9 234.2 L495.9 234.2 L550.0 272.8 L551.1 273.5 L551.1 269.9 L575.6 287.4 L575.6 284.6 L589.5 294.5 L589.5 292.9 L599.2 299.8 L599.2 297.9 L653.1 336.3 L653.1 332.6 L662.2 339.1 L662.2 335.8 L667.5 339.6 L667.5 336.6 L670.3 338.6 L670.3 334.6 L696.8 353.5 L696.8 349.6 L723.8 368.8 L723.8 363.6 L732.2 369.6 L732.2 357.6 L734.0 358.9 L734.0 353.1 L736.0 354.5 L736.0 349.6 L741.0 353.2 L741.0 344.6 L752.1 352.5 L752.1 344.9 L759.7 350.3 L759.7 342.6 L774.5 353.1 L774.5 344.6 L776.5 346.0 L776.5 339.6 L778.5 341.0 L778.5 334.6 L782.8 337.7 L782.8 326.6 L792.5 333.5 L792.5 306.6 L794.5 308.0 L794.5 298.6 L796.5 300.0 L796.5 285.6 L798.5 287.0 L798.5 270.6 L800.5 272.0 L800.5 245.6 L802.5 247.0 L802.5 215.6 L804.0 216.7 L804.0 180.6 L805.5 181.7 L805.5 120.6 L805.9 120.9 L805.9 86.6 L806.0 84.9" stroke="#00A087"/>
<path d="M118.1 84.9 L134.7 97.3 L134.7 82.3 L136.4 83.5 L136.4 70.2 L145.8 76.9 L145.8 65.4 L161.4 76.5 L161.4 67.0 L175.7 77.2 L175.7 69.6 L178.3 71.5 L178.3 64.1 L190.2 72.6 L190.2 66.6 L191.3 67.4 L191.3 60.1 L204.9 69.8 L204.9 64.3 L217.6 73.4 L217.6 69.1 L220.0 70.8 L220.0 65.1 L234.4 75.4 L234.4 71.0 L268.3 95.2 L268.3 91.6 L285.9 104.1 L285.9 102.6 L301.5 113.8 L301.5 108.8 L323.3 124.3 L323.3 122.1 L328.6 125.9 L328.6 123.9 L332.9 127.0 L332.9 125.0 L337.5 128.3 L337.5 126.3 L355.9 139.4 L355.9 138.4 L363.4 143.7 L363.4 143.0 L372.8 149.7 L372.8 149.0 L379.6 153.9 L379.6 153.2 L401.6 168.8 L401.6 168.1 L415.8 178.3 L415.8 178.2 L424.9 184.7 L424.9 184.2 L452.5 203.9 L452.5 203.5 L456.8 206.5 L456.8 206.1 L462.9 210.5 L462.9 210.1 L469.3 214.6 L469.3 214.2 L472.6 216.6 L472.6 216.2 L495.9 232.8 L495.9 232.8 L563.3 280.8 L563.3 280.2 L634.6 331.0 L634.6 327.0 L653.1 340.2 L653.1 336.8 L662.2 343.3 L662.2 340.2 L670.3 346.0 L670.3 341.6 L695.0 359.2 L695.0 354.1 L697.0 355.5 L697.0 351.6 L701.0 354.5 L701.0 350.1 L705.0 353.0 L705.0 347.6 L707.0 349.0 L707.0 341.6 L708.2 342.5 L708.2 338.6 L723.8 349.7 L723.8 343.6 L732.8 350.0 L732.8 344.6 L735.5 346.5 L735.5 335.6 L738.5 337.7 L738.5 332.6 L741.5 334.7 L741.5 329.6 L745.0 332.1 L745.0 325.6 L748.0 327.7 L748.0 322.6 L751.9 325.4 L751.9 318.6 L766.9 329.3 L766.9 312.6 L769.5 314.5 L769.5 296.6 L774.0 299.8 L774.0 290.6 L776.9 292.7 L776.9 272.6 L780.0 274.8 L780.0 269.1 L784.8 272.5 L784.8 264.6 L793.8 271.0 L793.8 256.6 L797.0 258.9 L797.0 240.6 L799.8 242.6 L799.8 215.6 L802.8 217.7 L802.8 188.6 L805.0 190.2 L805.0 130.6 L805.8 131.2 L805.8 86.6 L806.0 84.9" stroke="#3C5488"/>
<path d="M118.1 84.9 L154.5 111.4 L154.5 97.5 L166.4 106.0 L166.4 94.5 L175.9 101.3 L175.9 90.5 L191.9 101.9 L191.9 94.0 L202.4 101.5 L202.4 94.5 L206.4 97.4 L206.4 88.5 L217.5 96.4 L217.5 82.4 L231.6 92.4 L231.6 87.5 L236.9 91.3 L236.9 89.8 L240.3 92.2 L240.3 81.3 L252.4 89.9 L252.4 87.9 L271.7 101.7 L271.7 94.6 L284.7 103.9 L284.7 98.1 L286.8 99.6 L286.8 98.4 L290.1 100.7 L290.1 97.1 L294.6 100.3 L294.6 96.6 L306.0 104.7 L306.0 102.6 L316.8 110.3 L316.8 106.6 L328.9 115.2 L328.9 113.6 L335.7 118.4 L335.7 116.1 L352.8 128.3 L352.8 126.0 L358.0 129.7 L358.0 128.2 L359.8 129.5 L359.8 127.6 L401.5 157.3 L401.5 156.7 L411.5 163.8 L411.5 163.2 L419.3 168.8 L419.3 168.4 L425.5 172.8 L425.5 172.5 L428.0 174.3 L428.0 174.0 L452.5 191.5 L452.5 191.0 L459.5 196.0 L459.5 195.5 L464.0 198.7 L464.0 198.2 L466.2 199.7 L466.2 199.4 L517.3 235.9 L517.3 234.8 L553.8 260.8 L553.8 258.6 L575.5 274.1 L575.5 271.5 L585.9 278.9 L585.9 273.6 L630.6 305.5 L630.6 302.6 L636.6 306.9 L636.6 303.6 L641.0 306.7 L641.0 302.1 L676.0 327.0 L676.0 322.6 L680.0 325.5 L680.0 322.6 L683.0 324.7 L683.0 321.6 L685.5 323.4 L685.5 317.6 L737.5 354.7 L737.5 349.6 L739.0 350.7 L739.0 341.6 L742.0 343.7 L742.0 340.6 L748.1 344.9 L748.1 337.6 L761.8 347.4 L761.8 336.6 L770.0 342.4 L770.0 330.6 L772.0 332.0 L772.0 320.6 L773.5 321.7 L773.5 307.6 L778.0 310.8 L778.0 299.6 L779.5 300.7 L779.5 280.6 L781.0 281.7 L781.0 272.6 L782.8 273.9 L782.8 256.6 L798.6 267.9 L798.6 222.6 L805.2 227.3 L805.2 120.6 L805.8 121.0 L805.8 86.6 L806.0 84.9" stroke="#F39B7F"/>
</g>
<g font-size="20.25" fill="#000" letter-spacing="0.42" stroke="#000" stroke-width="0.18">
<line x1="128.6" x2="157.20" y1="323.30" y2="323.30" stroke="#4DBBD5" stroke-width="3.2"/>
<text x="166.20" y="330.20">KEGG_RIBOSOME</text>
<line x1="128.6" x2="157.20" y1="346.87" y2="346.87" stroke="#E64B35" stroke-width="3.2"/>
<text x="166.20" y="353.77">KEGG_FATTY_ACID_METABOLISM</text>
<line x1="128.6" x2="157.20" y1="370.44" y2="370.44" stroke="#00A087" stroke-width="3.2"/>
<text x="166.20" y="377.34">KEGG_RETINOL_METABOLISM</text>
<line x1="128.6" x2="157.20" y1="394.01" y2="394.01" stroke="#3C5488" stroke-width="3.2"/>
<text x="166.20" y="400.91">KEGG_DRUG_METABOLISM_CYTOCHROME_P450</text>
<line x1="128.6" x2="157.20" y1="417.58" y2="417.58" stroke="#F39B7F" stroke-width="3.2"/>
<text x="166.20" y="424.48">KEGG_GLYCOLYSIS_GLUCONEOGENESIS</text>
</g>
<line x1="118.1" x2="806.0" y1="84.90" y2="84.90" stroke="#999999" stroke-width="3.0"/>
<g clip-path="url(#clipBar)">
<path d="M153.1 435.3H156.6V461.5H153.1ZM164.6 435.3H168.0V461.5H164.6ZM174.0 435.3H177.2V461.5H174.0ZM190.0 435.3H193.6V461.5H190.0ZM200.4 435.3H203.8V461.5H200.4ZM204.7 435.3H208.1V461.5H204.7ZM215.9 435.3H219.5V461.5H215.9ZM230.3 435.3H233.6V461.5H230.3ZM235.2 435.3H238.6V461.5H235.2ZM238.7 435.3H242.0V461.5H238.7ZM250.9 435.3H254.1V461.5H250.9ZM269.9 435.3H273.2V461.5H269.9ZM283.3 435.3H285.7V461.5H283.3ZM285.9 435.3H288.3V461.5H285.9ZM288.8 435.3H291.9V461.5H288.8ZM292.7 435.3H296.0V461.5H292.7ZM304.5 435.3H307.9V461.5H304.5ZM315.0 435.3H318.1V461.5H315.0ZM327.3 435.3H330.7V461.5H327.3ZM333.8 435.3H337.2V461.5H333.8ZM351.1 435.3H354.5V461.5H351.1ZM356.2 435.3H361.2V461.5H356.2ZM399.8 435.3H403.2V461.5H399.8ZM409.3 435.3H413.6V461.5H409.3ZM417.8 435.3H421.0V461.5H417.8ZM424.1 435.3H429.3V461.5H424.1ZM450.9 435.3H454.0V461.5H450.9ZM457.9 435.3H461.2V461.5H457.9ZM462.0 435.3H468.2V461.5H462.0ZM515.8 435.3H518.9V461.5H515.8ZM552.0 435.3H555.2V461.5H552.0ZM574.0 435.3H577.1V461.5H574.0ZM583.9 435.3H587.3V461.5H583.9ZM628.7 435.3H632.1V461.5H628.7ZM635.0 435.3H638.1V461.5H635.0ZM639.0 435.3H642.3V461.5H639.0ZM674.3 435.3H677.7V461.5H674.3ZM680.0 435.3H686.6V461.5H680.0ZM736.6 435.3H742.9V461.5H736.6ZM746.3 435.3H750.0V461.5H746.3ZM760.1 435.3H763.5V461.5H760.1ZM768.8 435.3H774.8V461.5H768.8ZM776.2 435.3H784.8V461.5H776.2ZM796.3 435.3H800.5V461.5H796.3Z" fill="#F39B7F"/>
<path d="M133.2 461.5H138.6V487.6H133.2ZM144.0 461.5H147.7V487.6H144.0ZM159.7 461.5H163.1V487.6H159.7ZM174.0 461.5H180.2V487.6H174.0ZM188.3 461.5H193.0V487.6H188.3ZM203.1 461.5H206.5V487.6H203.1ZM216.2 461.5H221.8V487.6H216.2ZM232.7 461.5H236.1V487.6H232.7ZM266.5 461.5H269.9V487.6H266.5ZM284.2 461.5H287.6V487.6H284.2ZM299.4 461.5H303.6V487.6H299.4ZM321.8 461.5H324.9V487.6H321.8ZM327.0 461.5H330.1V487.6H327.0ZM331.4 461.5H334.4V487.6H331.4ZM336.0 461.5H339.1V487.6H336.0ZM354.2 461.5H357.5V487.6H354.2ZM361.9 461.5H364.9V487.6H361.9ZM371.3 461.5H374.3V487.6H371.3ZM378.0 461.5H381.1V487.6H378.0ZM400.1 461.5H403.2V487.6H400.1ZM414.2 461.5H417.5V487.6H414.2ZM423.2 461.5H426.6V487.6H423.2ZM450.9 461.5H454.0V487.6H450.9ZM455.2 461.5H458.3V487.6H455.2ZM461.4 461.5H464.5V487.6H461.4ZM467.6 461.5H470.6V487.6H467.6ZM471.1 461.5H474.3V487.6H471.1ZM494.2 461.5H497.6V487.6H494.2ZM561.7 461.5H565.0V487.6H561.7ZM633.0 461.5H636.4V487.6H633.0ZM651.5 461.5H654.9V487.6H651.5ZM660.4 461.5H663.8V487.6H660.4ZM668.5 461.5H672.0V487.6H668.5ZM694.2 461.5H698.2V487.6H694.2ZM698.8 461.5H710.1V487.6H698.8ZM722.1 461.5H725.5V487.6H722.1ZM731.6 461.5H737.3V487.6H731.6ZM737.9 461.5H742.4V487.6H737.9ZM744.4 461.5H749.0V487.6H744.4ZM749.7 461.5H754.0V487.6H749.7ZM765.1 461.5H771.8V487.6H765.1ZM773.7 461.5H780.5V487.6H773.7ZM781.1 461.5H784.5V487.6H781.1ZM792.0 461.5H795.3V487.6H792.0ZM795.9 461.5H804.8V487.6H795.9Z" fill="#3C5488"/>
<path d="M135.0 487.6H138.9V513.7H135.0ZM144.0 487.6H147.7V513.7H144.0ZM159.7 487.6H163.1V513.7H159.7ZM176.9 487.6H180.3V513.7H176.9ZM180.9 487.6H184.3V513.7H180.9ZM189.6 487.6H193.0V513.7H189.6ZM203.1 487.6H206.8V513.7H203.1ZM207.6 487.6H211.0V513.7H207.6ZM216.2 487.6H221.8V513.7H216.2ZM232.7 487.6H236.1V513.7H232.7ZM246.0 487.6H249.4V513.7H246.0ZM253.7 487.6H257.1V513.7H253.7ZM258.0 487.6H261.7V513.7H258.0ZM266.5 487.6H269.9V513.7H266.5ZM272.2 487.6H276.2V513.7H272.2ZM303.0 487.6H306.9V513.7H303.0ZM321.8 487.6H324.9V513.7H321.8ZM327.0 487.6H330.1V513.7H327.0ZM331.4 487.6H334.4V513.7H331.4ZM336.0 487.6H339.1V513.7H336.0ZM420.4 487.6H426.6V513.7H420.4ZM449.4 487.6H452.8V513.7H449.4ZM467.1 487.6H470.2V513.7H467.1ZM471.0 487.6H474.3V513.7H471.0ZM494.2 487.6H497.6V513.7H494.2ZM535.4 487.6H538.8V513.7H535.4ZM548.8 487.6H553.6V513.7H548.8ZM573.7 487.6H577.0V513.7H573.7ZM587.8 487.6H591.0V513.7H587.8ZM597.3 487.6H600.7V513.7H597.3ZM651.5 487.6H654.9V513.7H651.5ZM660.4 487.6H663.8V513.7H660.4ZM666.1 487.6H672.0V513.7H666.1ZM695.1 487.6H698.5V513.7H695.1ZM722.1 487.6H725.5V513.7H722.1ZM731.2 487.6H737.3V513.7H731.2ZM739.3 487.6H742.7V513.7H739.3ZM750.4 487.6H753.8V513.7H750.4ZM758.1 487.6H761.2V513.7H758.1ZM773.2 487.6H779.4V513.7H773.2ZM781.1 487.6H784.5V513.7H781.1ZM791.0 487.6H804.8V513.7H791.0Z" fill="#00A087"/>
<path d="M144.0 513.7H148.0V539.8H144.0ZM209.6 513.7H213.0V539.8H209.6ZM225.9 513.7H229.3V539.8H225.9ZM272.8 513.7H276.2V539.8H272.8ZM309.5 513.7H312.6V539.8H309.5ZM314.7 513.7H317.8V539.8H314.7ZM349.2 513.7H352.5V539.8H349.2ZM358.0 513.7H361.2V539.8H358.0ZM408.1 513.7H411.2V539.8H408.1ZM448.0 513.7H451.1V539.8H448.0ZM457.9 513.7H461.2V539.8H457.9ZM478.7 513.7H484.2V539.8H478.7ZM515.3 513.7H518.9V539.8H515.3ZM574.0 513.7H577.1V539.8H574.0ZM577.4 513.7H580.5V539.8H577.4ZM580.8 513.7H583.9V539.8H580.8ZM589.0 513.7H592.7V539.8H589.0ZM628.2 513.7H631.8V539.8H628.2ZM634.7 513.7H639.9V539.8H634.7ZM672.8 513.7H676.0V539.8H672.8ZM697.1 513.7H700.3V539.8H697.1ZM731.2 513.7H734.2V539.8H731.2ZM738.1 513.7H742.7V539.8H738.1ZM758.3 513.7H761.7V539.8H758.3ZM771.2 513.7H774.6V539.8H771.2ZM776.2 513.7H784.8V539.8H776.2ZM794.0 513.7H800.5V539.8H794.0ZM803.6 513.7H805.6V539.8H803.6Z" fill="#E64B35"/>
<path d="M164.3 539.8H168.0V565.0H164.3ZM328.9 539.8H332.0V565.0H328.9ZM400.8 539.8H403.9V565.0H400.8ZM414.2 539.8H417.6V565.0H414.2ZM457.1 539.8H460.2V565.0H457.1ZM471.7 539.8H474.8V565.0H471.7ZM480.5 539.8H483.9V565.0H480.5ZM518.7 539.8H522.0V565.0H518.7ZM543.1 539.8H550.0V565.0H543.1ZM585.1 539.8H588.2V565.0H585.1ZM588.7 539.8H591.6V565.0H588.7ZM593.9 539.8H599.3V565.0H593.9ZM634.1 539.8H643.0V565.0H634.1ZM647.3 539.8H655.0V565.0H647.3ZM666.9 539.8H676.9V565.0H666.9ZM677.7 539.8H688.5V565.0H677.7ZM693.1 539.8H702.0V565.0H693.1ZM702.7 539.8H711.6V565.0H702.7ZM713.1 539.8H720.4V565.0H713.1ZM722.1 539.8H742.4V565.0H722.1ZM743.2 539.8H752.4V565.0H743.2ZM756.3 539.8H762.0V565.0H756.3ZM768.6 539.8H772.8V565.0H768.6Z" fill="#4DBBD5"/>
</g>
<path d="M118.1 668.70L118.1 594.5L119.8 604.3L120.6 611.9L121.3 619.9L122.4 628.3L124.4 634.8L127.1 639.5L131.1 642.9L139.2 647.1L148.6 650.2L162.0 653.6L175.4 656.0L188.8 657.9L202.2 659.0L218.4 660.3L235.8 661.1L255.0 662.3L300.0 664.5L350.0 666.2L400.0 667.5L438 668.10L438 668.70ZM438 668.10L806.0 668.10L806.0 733.0L804.3 731.0L803.6 725.2L802.9 717.1L801.5 709.1L800.2 703.7L798.2 699.0L794.8 694.3L790.8 690.9L785.4 688.3L777.4 685.6L764.0 682.9L750.5 680.9L737.1 679.3L723.7 677.9L710.3 676.8L696.8 675.8L683.4 674.8L670.0 673.9L620.0 672.3L570.0 670.9L520.0 669.8L480.0 669.0L438 668.70Z" fill="#BEBEBE" clip-path="url(#clipBot)"/>
<g fill="none" stroke="#000" stroke-width="3.3" stroke-linejoin="round">
<rect x="118.1" y="42.1" width="687.90" height="391.30"/>
<path d="M118.1 435.20V565.4M806.0 435.20V565.4"/>
<rect x="118.1" y="565.4" width="687.90" height="208.70"/>
</g>
<g stroke="#000" stroke-width="3.3" fill="none"><line x1="106.30" x2="115.90" y1="84.90" y2="84.90"/><line x1="106.30" x2="115.90" y1="182.28" y2="182.28"/><line x1="106.30" x2="115.90" y1="279.66" y2="279.66"/><line x1="106.30" x2="115.90" y1="377.04" y2="377.04"/><line x1="106.30" x2="115.90" y1="574.10" y2="574.10"/><line x1="106.30" x2="115.90" y1="621.25" y2="621.25"/><line x1="106.30" x2="115.90" y1="668.40" y2="668.40"/><line x1="106.30" x2="115.90" y1="715.55" y2="715.55"/><line x1="106.30" x2="115.90" y1="762.70" y2="762.70"/><line x1="318.30" x2="318.30" y1="774.1" y2="785.90"/><line x1="518.55" x2="518.55" y1="774.1" y2="785.90"/><line x1="718.80" x2="718.80" y1="774.1" y2="785.90"/></g>
<g font-size="26.2" fill="#000">
<text text-anchor="end" transform="translate(97.50,93.90) scale(0.952,1)">0.0</text>
<text text-anchor="end" transform="translate(97.50,191.28) scale(0.952,1)"><tspan textLength="14.14" lengthAdjust="spacingAndGlyphs">−</tspan><tspan dx="1.85">0.2</tspan></text>
<text text-anchor="end" transform="translate(97.50,288.66) scale(0.952,1)"><tspan textLength="14.14" lengthAdjust="spacingAndGlyphs">−</tspan><tspan dx="1.85">0.4</tspan></text>
<text text-anchor="end" transform="translate(97.50,386.04) scale(0.952,1)"><tspan textLength="14.14" lengthAdjust="spacingAndGlyphs">−</tspan><tspan dx="1.85">0.6</tspan></text>
<text text-anchor="end" transform="translate(97.50,583.10) scale(0.952,1)">5.0</text>
<text text-anchor="end" transform="translate(97.50,630.25) scale(0.952,1)">2.5</text>
<text text-anchor="end" transform="translate(97.50,677.40) scale(0.952,1)">0.0</text>
<text text-anchor="end" transform="translate(97.50,724.55) scale(0.952,1)"><tspan textLength="14.14" lengthAdjust="spacingAndGlyphs">−</tspan><tspan dx="1.85">2.5</tspan></text>
<text text-anchor="end" transform="translate(97.50,771.70) scale(0.952,1)"><tspan textLength="14.14" lengthAdjust="spacingAndGlyphs">−</tspan><tspan dx="1.85">5.0</tspan></text>
<text text-anchor="middle" transform="translate(318.30,814.1) scale(0.965,1)">10000</text>
<text text-anchor="middle" transform="translate(518.55,814.1) scale(0.965,1)">20000</text>
<text text-anchor="middle" transform="translate(718.80,814.1) scale(0.965,1)">30000</text>
</g>
<g font-size="29.2" fill="#000" text-anchor="middle">
<text x="462.05" y="850.6">Rank in Ordered Dataset</text>
<text font-size="28.32" transform="translate(30.8,237.75) rotate(-90) scale(1.031,1)">Enrichment Score</text>
<text font-size="28.32" transform="translate(30.35,669.75) rotate(-90) scale(1.031,1)">Ranked list metric</text>
</g>
</g>
</svg>
</body>
</html>
